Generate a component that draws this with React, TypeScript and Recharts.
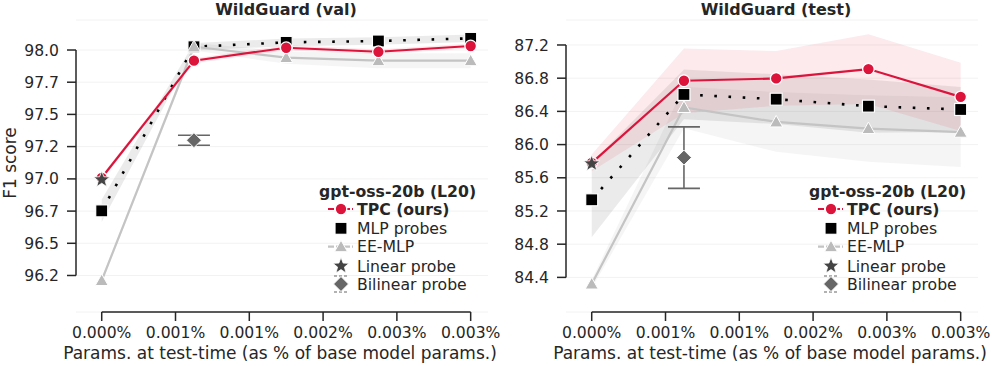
import React from 'react';
import {
  ComposedChart,
  Line,
  Area,
  Scatter,
  ErrorBar,
  XAxis,
  YAxis,
  CartesianGrid,
  ReferenceLine,
} from 'recharts';

// x positions (% of base model params) and axis ticks
const paramsPct = [0, 0.000825, 0.00165, 0.002475, 0.0033];
const xTicks = [0, 0.00066, 0.00132, 0.00198, 0.00264, 0.0033];

// WildGuard (val)
const valTicks = [96.2, 96.457, 96.714, 96.971, 97.229, 97.486, 97.743, 98.0];
const tpcVal = [96.98, 97.915, 98.018, 97.986, 98.032];
const tpcValErr = [0.02, 0.02, 0.02, 0.02, 0.02];
const mlpVal = [96.716, 98.026, 98.061, 98.072, 98.093];
const mlpValErr = [0.09, 0.03, 0.03, 0.03, 0.03];
const eeVal = [96.16, 98.026, 97.94, 97.915, 97.915];
const eeValErr = [0.02, 0.03, 0.05, 0.06, 0.06];
const linearVal = 96.965;
const bilinearVal = 97.28;
const bilinearValErr = 0.04;

// WildGuard (test)
const testTicks = [84.4, 84.8, 85.2, 85.6, 86.0, 86.4, 86.8, 87.2];
const tpcTest = [85.78, 86.769, 86.797, 86.91, 86.575];
const tpcTestErr = [0.1, 0.39, 0.33, 0.42, 0.41];
const mlpTest = [85.335, 86.604, 86.547, 86.463, 86.423];
const mlpTestErr = [0.45, 0.3, 0.3, 0.32, 0.27];
const eeTest = [84.32, 86.447, 86.273, 86.193, 86.149];
const eeTestErr = [0.05, 0.25, 0.36, 0.4, 0.42];
const linearTest = 85.77;
const bilinearTest = 85.843;
const bilinearTestErr = 0.37;

const RED = '#dc143c';
const GREY = '#bbbbbb';
const INK = '#262626';
const FONT = 'DejaVu Sans';
const TICK_FS = 15.6;
const LEG_FS = 15.7;

const X_DOMAIN = [-0.00023, 0.003455];

const buildRows = (tpc, tpcErr, mlp, mlpErr, ee, eeErr) =>
  paramsPct.map((x, i) => ({
    x,
    tpc: tpc[i],
    mlp: mlp[i],
    ee: ee[i],
    tpcBand: [tpc[i] - tpcErr[i], tpc[i] + tpcErr[i]],
    mlpBand: [mlp[i] - mlpErr[i], mlp[i] + mlpErr[i]],
    eeBand: [ee[i] - eeErr[i], ee[i] + eeErr[i]],
  }));

const starPoints = (cx, cy, R, r) => {
  const pts = [];
  for (let i = 0; i < 10; i++) {
    const a = (-90 + i * 36) * Math.PI / 180;
    const rad = i % 2 === 0 ? R : r;
    pts.push(`${cx + rad * Math.cos(a)},${cy + rad * Math.sin(a)}`);
  }
  return pts.join(' ');
};

const Circle = ({ cx, cy }) => <circle cx={cx} cy={cy} r={5.8} fill={RED} stroke="#fff" strokeWidth={1.3} />;
const Square = ({ cx, cy }) => <rect x={cx - 6} y={cy - 6} width={12} height={12} fill="#000" stroke="#fff" strokeWidth={1.2} />;
const Triangle = ({ cx, cy }) => (
  <polygon points={`${cx},${cy - 6.5} ${cx + 6.5},${cy + 5} ${cx - 6.5},${cy + 5}`} fill={GREY} stroke="#fff" strokeWidth={1} />
);
const Star = ({ cx, cy }) => <polygon points={starPoints(cx, cy, 8.5, 3.6)} fill="#444" stroke="#fff" strokeWidth={0.8} />;
const Diamond = ({ cx, cy }) => (
  <polygon points={`${cx},${cy - 7.5} ${cx + 7.5},${cy} ${cx},${cy + 7.5} ${cx - 7.5},${cy}`} fill="#666" stroke="#fff" strokeWidth={1} />
);

function Panel({ left, rows, yTicks, yDomain, linear, bilinear, bilinearErr }) {
  const lo = yTicks[0];
  const hi = yTicks[yTicks.length - 1];
  return (
    <div style={{ position: 'absolute', left, top: 0 }}>
      <ComposedChart width={500} height={366} data={rows} margin={{ top: 20, right: 12, bottom: 0, left: 16 }}>
        <CartesianGrid vertical={false} stroke="#f2f2f2" strokeWidth={1} />
        <XAxis
          dataKey="x"
          type="number"
          domain={X_DOMAIN}
          ticks={xTicks}
          allowDataOverflow
          height={54}
          axisLine={false}
          tickSize={9}
          tickMargin={6}
          tickLine={{ stroke: INK, strokeWidth: 1.5 }}
          tick={{ fill: INK, fontSize: TICK_FS, fontFamily: FONT }}
          tickFormatter={(v) => `${v.toFixed(3)}%`}
        />
        <YAxis
          type="number"
          domain={yDomain}
          ticks={yTicks}
          allowDataOverflow
          width={60}
          axisLine={false}
          tickSize={9}
          tickMargin={8}
          tickLine={{ stroke: INK, strokeWidth: 1.5 }}
          tick={{ fill: INK, fontSize: TICK_FS, fontFamily: FONT }}
          tickFormatter={(v) => v.toFixed(1)}
        />
        <ReferenceLine
          segment={[{ x: X_DOMAIN[0], y: lo }, { x: X_DOMAIN[0], y: hi }]}
          stroke={INK}
          strokeWidth={1.5}
          ifOverflow="visible"
        />
        <ReferenceLine
          segment={[{ x: xTicks[0], y: yDomain[0] }, { x: xTicks[xTicks.length - 1], y: yDomain[0] }]}
          stroke={INK}
          strokeWidth={1.5}
          ifOverflow="visible"
        />
        <Area dataKey="eeBand" type="linear" fill={GREY} fillOpacity={0.15} stroke="none" dot={false} activeDot={false} isAnimationActive={false} />
        <Area dataKey="mlpBand" type="linear" fill="#000" fillOpacity={0.08} stroke="none" dot={false} activeDot={false} isAnimationActive={false} />
        <Area dataKey="tpcBand" type="linear" fill={RED} fillOpacity={0.09} stroke="none" dot={false} activeDot={false} isAnimationActive={false} />
        <Line
          dataKey="mlp"
          type="linear"
          stroke="#000"
          strokeWidth={2.6}
          strokeDasharray="2.6 11.6"
          dot={(p) => <Square key={`sq-${p.index}`} cx={p.cx} cy={p.cy} />}
          activeDot={false}
          isAnimationActive={false}
        />
        <Line
          dataKey="ee"
          type="linear"
          stroke="#c4c4c4"
          strokeWidth={2.2}
          dot={(p) => <Triangle key={`tr-${p.index}`} cx={p.cx} cy={p.cy} />}
          activeDot={false}
          isAnimationActive={false}
        />
        <Line
          dataKey="tpc"
          type="linear"
          stroke={RED}
          strokeWidth={2.2}
          dot={(p) => <Circle key={`ci-${p.index}`} cx={p.cx} cy={p.cy} />}
          activeDot={false}
          isAnimationActive={false}
        />
        <Scatter
          data={[{ x: paramsPct[0], y: linear }]}
          dataKey="y"
          shape={(p) => <Star cx={p.cx} cy={p.cy} />}
          isAnimationActive={false}
        />
        <Scatter
          data={[{ x: paramsPct[1], y: bilinear, err: bilinearErr }]}
          dataKey="y"
          shape={(p) => <Diamond cx={p.cx} cy={p.cy} />}
          isAnimationActive={false}
        >
          <ErrorBar dataKey="err" direction="y" width={16} stroke="#666" strokeWidth={1.6} isAnimationActive={false} />
        </Scatter>
      </ComposedChart>
    </div>
  );
}

function LegendBox({ dx }) {
  const mx = dx + 341;
  const tx = dx + 357;
  const rowsY = [209, 228.3, 246.7, 266, 284];
  return (
    <g fontFamily={FONT} fontSize={LEG_FS} fill={INK}>
      <text x={dx + 319} y={197} fontWeight="bold">gpt-oss-20b (L20)</text>
      <line x1={dx + 328} x2={dx + 353} y1={rowsY[0]} y2={rowsY[0]} stroke={RED} strokeWidth={2.2} strokeDasharray="6 2" />
      <Circle cx={mx} cy={rowsY[0]} />
      <text x={tx} y={rowsY[0] + 5.5} fontWeight="bold">TPC (ours)</text>
      <Square cx={mx} cy={rowsY[1]} />
      <text x={tx} y={rowsY[1] + 5.5}>MLP probes</text>
      <line x1={dx + 328} x2={dx + 353} y1={rowsY[2]} y2={rowsY[2]} stroke="#c4c4c4" strokeWidth={2.2} strokeDasharray="6 2" />
      <Triangle cx={mx} cy={rowsY[2]} />
      <text x={tx} y={rowsY[2] + 5.5}>EE-MLP</text>
      <Star cx={mx} cy={rowsY[3]} />
      <text x={tx} y={rowsY[3] + 5.5}>Linear probe</text>
      <line x1={mx - 7} x2={mx + 7} y1={rowsY[4] - 8} y2={rowsY[4] - 8} stroke="#666" strokeWidth={1.2} strokeDasharray="3 2" />
      <line x1={mx - 7} x2={mx + 7} y1={rowsY[4] + 8} y2={rowsY[4] + 8} stroke="#666" strokeWidth={1.2} strokeDasharray="3 2" />
      <Diamond cx={mx} cy={rowsY[4]} />
      <text x={tx} y={rowsY[4] + 5.5}>Bilinear probe</text>
    </g>
  );
}

export default function App() {
  const valRows = buildRows(tpcVal, tpcValErr, mlpVal, mlpValErr, eeVal, eeValErr);
  const testRows = buildRows(tpcTest, tpcTestErr, mlpTest, mlpTestErr, eeTest, eeTestErr);
  const xLabel = 'Params. at test-time (as % of base model params.)';
  return (
    <div style={{ position: 'absolute', left: 0, top: 0, width: 997, height: 366, background: '#fff', fontFamily: FONT }}>
      <Panel
        left={0}
        rows={valRows}
        yTicks={valTicks}
        yDomain={[95.9085, 98.2396]}
        linear={linearVal}
        bilinear={bilinearVal}
        bilinearErr={bilinearValErr}
      />
      <Panel
        left={490}
        rows={testRows}
        yTicks={testTicks}
        yDomain={[83.983, 87.501]}
        linear={linearTest}
        bilinear={bilinearTest}
        bilinearErr={bilinearTestErr}
      />
      <svg width={997} height={366} style={{ position: 'absolute', left: 0, top: 0, pointerEvents: 'none' }}>
        <g fontFamily={FONT} fill={INK}>
          <text x={286} y={15} fontSize={16} fontWeight="bold" textAnchor="middle">WildGuard (val)</text>
          <text x={776} y={15} fontSize={16} fontWeight="bold" textAnchor="middle">WildGuard (test)</text>
          <text x={280} y={359} fontSize={17} textAnchor="middle">{xLabel}</text>
          <text x={770} y={359} fontSize={17} textAnchor="middle">{xLabel}</text>
          <text x={15.5} y={163} fontSize={17} textAnchor="middle" transform="rotate(-90 15.5 163)">F1 score</text>
        </g>
        <LegendBox dx={0} />
        <LegendBox dx={490} />
      </svg>
    </div>
  );
}
